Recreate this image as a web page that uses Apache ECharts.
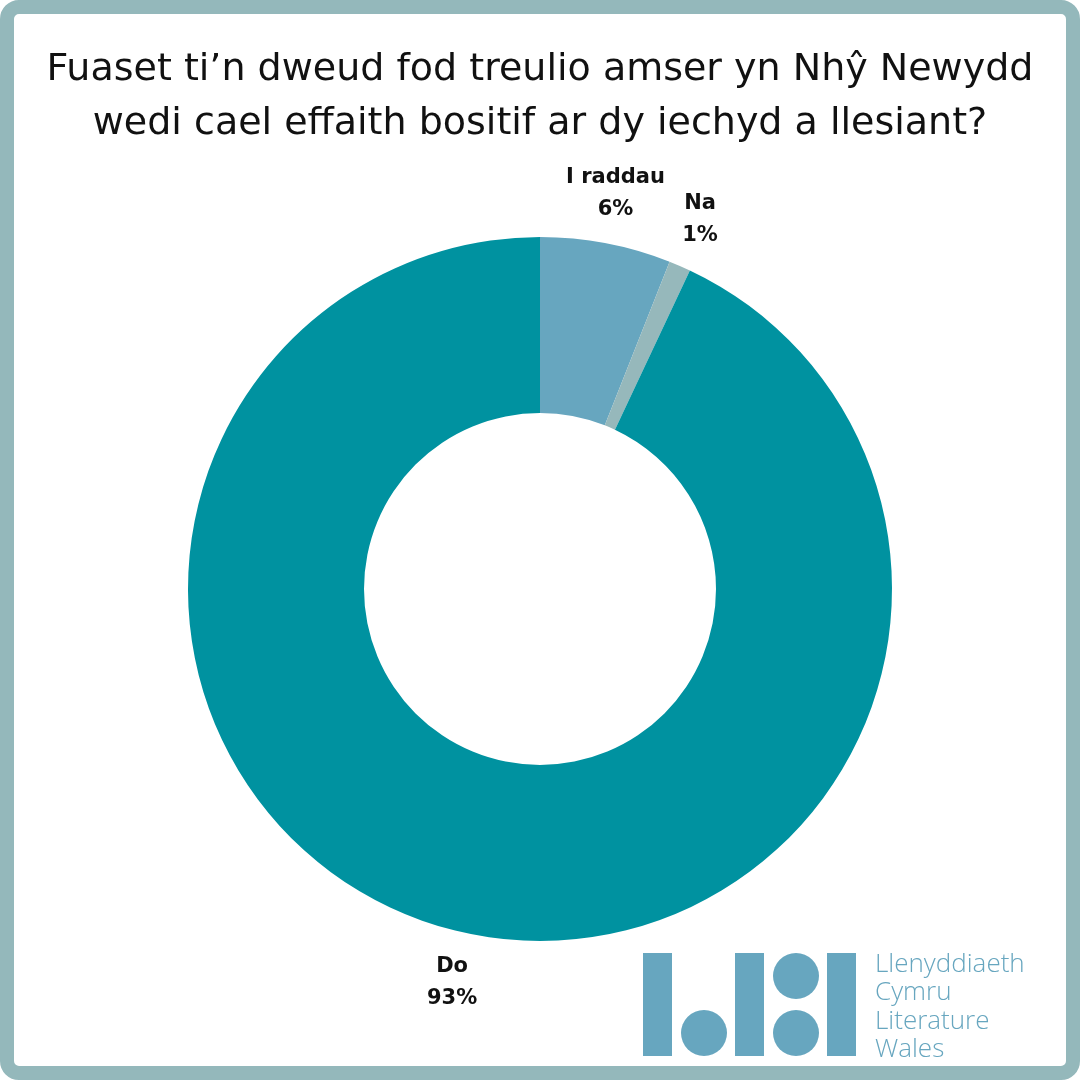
<!DOCTYPE html>
<html>
<head>
<meta charset="utf-8">
<script src="https://cdn.jsdelivr.net/npm/echarts@6/dist/echarts.min.js"></script>
<style>
  html, body { margin: 0; padding: 0; background: #fff; }
  #chart { width: 1080px; height: 1080px; }
</style>
</head>
<body>
<div id="chart"></div>
<script>
// answers and their share of respondents (%)
var categories = ['I raddau', 'Na', 'Do'];
var shares = [6, 1, 93];
var sliceColours = ['#67a6bf', '#96b8bb', '#0092a0'];
var titleLines = [
    'Fuaset ti\u2019n dweud fod treulio amser yn Nh\u0177 Newydd',
    'wedi cael effaith bositif ar dy iechyd a llesiant?'
];
var logoLines = ['Llenyddiaeth', 'Cymru', 'Literature', 'Wales'];

function initChart() {
    var chart = echarts.init(document.getElementById('chart'), null, { renderer: 'canvas' });

    var pieData = categories.map(function (name, i) {
        return { name: name, value: shares[i], itemStyle: { color: sliceColours[i] } };
    });
    // same data again, invisible, only to place the centred labels outside the ring
    var labelData = categories.map(function (name, i) {
        return { name: name, value: shares[i] };
    });

    var logoBlue = '#67a6bf';

    chart.setOption({
        animation: false,
        title: {
            text: titleLines.join('\n'),
            left: 'center',
            top: 38,
            textStyle: {
                fontFamily: 'DejaVu Sans',
                fontSize: 38,
                fontWeight: 'normal',
                color: '#111',
                lineHeight: 54
            }
        },
        series: [
            {
                type: 'pie',
                center: [540, 589],
                radius: [176, 352],
                startAngle: 90,
                clockwise: true,
                silent: true,
                label: { show: false },
                labelLine: { show: false },
                data: pieData
            },
            {
                type: 'pie',
                center: [540, 589],
                radius: [352, 448],
                startAngle: 90,
                clockwise: true,
                silent: true,
                itemStyle: { color: 'rgba(0,0,0,0)' },
                label: {
                    show: true,
                    position: 'inside',
                    formatter: '{b}\n{c}%',
                    fontFamily: 'DejaVu Sans',
                    fontWeight: 'bold',
                    fontSize: 21,
                    lineHeight: 32,
                    color: '#111'
                },
                labelLine: { show: false },
                data: labelData
            }
        ],
        graphic: [
            // frame
            {
                type: 'rect',
                shape: { x: 7, y: 7, width: 1066, height: 1066, r: 12 },
                style: { fill: null, stroke: '#94b8bb', lineWidth: 14 },
                silent: true
            },
            // logo
            { type: 'rect', shape: { x: 643, y: 953, width: 29, height: 103 }, style: { fill: logoBlue } },
            { type: 'circle', shape: { cx: 704, cy: 1033, r: 23 }, style: { fill: logoBlue } },
            { type: 'rect', shape: { x: 735, y: 953, width: 29, height: 103 }, style: { fill: logoBlue } },
            { type: 'circle', shape: { cx: 796, cy: 976, r: 23 }, style: { fill: logoBlue } },
            { type: 'circle', shape: { cx: 796, cy: 1033, r: 23 }, style: { fill: logoBlue } },
            { type: 'rect', shape: { x: 827, y: 953, width: 29, height: 103 }, style: { fill: logoBlue } },
            {
                type: 'text',
                left: 875,
                top: 950,
                style: {
                    text: logoLines.join('\n'),
                    fontFamily: 'Open Sans',
                    fontWeight: 300,
                    fontSize: 26,
                    lineHeight: 28.5,
                    fill: logoBlue
                }
            }
        ]
    });
}

initChart();
</script>
</body>
</html>
